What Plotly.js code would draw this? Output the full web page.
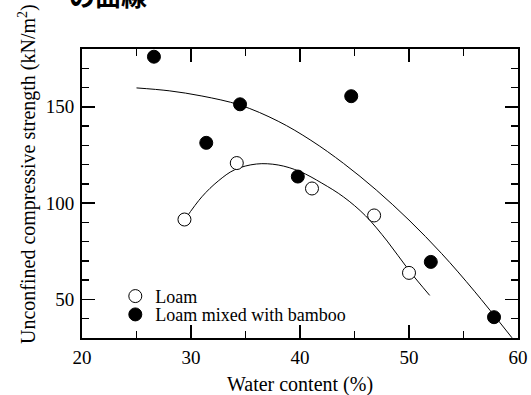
<!DOCTYPE html>
<html>
<head>
<meta charset="utf-8">
<script src="https://cdn.plot.ly/plotly-3.0.1.min.js"></script>
<style>html,body{margin:0;padding:0;background:#fff;}#chart{width:531px;height:395px;}</style>
</head>
<body>
<div id="chart"></div>
<script>
// Measured points
const loamX = [29.4, 34.2, 41.1, 46.8, 50.0];
const loamY = [91.5, 120.8, 107.6, 93.6, 63.8];
const bambooX = [26.6, 31.4, 34.5, 39.8, 44.7, 52.0, 57.8];
const bambooY = [176.0, 131.3, 151.3, 113.8, 155.5, 69.5, 40.8];
// Fitted curves
const loamCurveX = [29.5, 31, 32.5, 34, 36, 38, 40, 42, 44, 46, 48, 50, 51.9];
const loamCurveY = [92.0, 103.3, 111.5, 117.3, 120.3, 119.8, 116.4, 110.4, 103.2, 93.5, 80.3, 65.1, 52.1];
const bambooCurveX = [25, 28, 31, 34.5, 38, 41, 44, 47, 50, 53, 56, 59.45];
const bambooCurveY = [159.8, 158.3, 155.6, 150.9, 142.5, 132.6, 120.6, 106.8, 91.2, 73.8, 54.3, 30.1];
// Text
const titleText = "の曲線";
const xTitle = "Water content (%)";
const yTitle = "Unconfined compressive strength (kN/m<sup>2</sup>)";
const loamName = "Loam";
const bambooName = "Loam mixed with bamboo";
const xTicks = [20, 30, 40, 50, 60];
const yTicks = [50, 100, 150];

const serif = "Liberation Serif";

const traces = [
  {x: loamCurveX, y: loamCurveY, mode: "lines", line: {color: "#000", width: 1, shape: "spline", smoothing: 1}, showlegend: false, hoverinfo: "skip"},
  {x: bambooCurveX, y: bambooCurveY, mode: "lines", line: {color: "#000", width: 1, shape: "spline", smoothing: 1}, showlegend: false, hoverinfo: "skip"},
  {x: loamX, y: loamY, mode: "markers", name: loamName, legend: "legend",
   marker: {symbol: "circle", size: 13, color: "#fff", line: {color: "#000", width: 1}}},
  {x: bambooX, y: bambooY, mode: "markers", name: bambooName, legend: "legend2",
   marker: {symbol: "circle", size: 13, color: "#000", line: {color: "#000", width: 1}}}
];

function axisBase() {
  return {
    showgrid: false, zeroline: false, showline: true, linecolor: "#000", linewidth: 2,
    mirror: "ticks", ticks: "inside", ticklen: 13, tickwidth: 1.5, tickcolor: "#000",
    tickfont: {family: serif, size: 19, color: "#000"}
  };
}

const layout = {
  width: 531, height: 395,
  margin: {l: 82, r: 13, t: 49, b: 57},
  paper_bgcolor: "#fff", plot_bgcolor: "#fff",
  font: {family: serif, color: "#000", size: 18},
  xaxis: Object.assign(axisBase(), {
    range: [20, 60], tickmode: "array", tickvals: xTicks, ticktext: xTicks.map(String),
    ticklabelstandoff: 1,
    minor: {dtick: 5, tick0: 20, ticks: "inside", ticklen: 7, tickwidth: 1.5, tickcolor: "#000"}
  }),
  yaxis: Object.assign(axisBase(), {
    range: [30, 180], tickmode: "array", tickvals: yTicks, ticktext: yTicks.map(String),
    ticklabelstandoff: 2,
    minor: {dtick: 10, tick0: 0, ticks: "inside", ticklen: 7, tickwidth: 1.5, tickcolor: "#000"}
  }),
  legend: {x: 0.0764, y: 0.144, xanchor: "left", yanchor: "middle", bgcolor: "rgba(0,0,0,0)",
    borderwidth: 0, font: {family: serif, size: 18, color: "#000"}},
  legend2: {x: 0.0764, y: 0.0806, xanchor: "left", yanchor: "middle", bgcolor: "rgba(0,0,0,0)",
    borderwidth: 0, font: {family: serif, size: 18, color: "#000"}},
  annotations: [
    {text: titleText, xref: "paper", yref: "paper", x: 0.0585, y: 1.19, xanchor: "center", yanchor: "middle",
     showarrow: false, font: {family: "Noto Sans CJK JP", size: 26, color: "#000", weight: "bold"}},
    {text: xTitle, xref: "paper", yref: "paper", x: 0.5, y: (338 - 384) / 289, xanchor: "center", yanchor: "middle",
     showarrow: false, font: {family: serif, size: 20, color: "#000"}},
    {text: yTitle, xref: "paper", yref: "paper", x: (27 - 82) / 436, y: (338 - 174) / 289, xanchor: "center", yanchor: "middle",
     textangle: -90, showarrow: false, font: {family: serif, size: 20, color: "#000"}}
  ]
};

Plotly.newPlot("chart", traces, layout, {staticPlot: true, displayModeBar: false});
</script>
</body>
</html>
